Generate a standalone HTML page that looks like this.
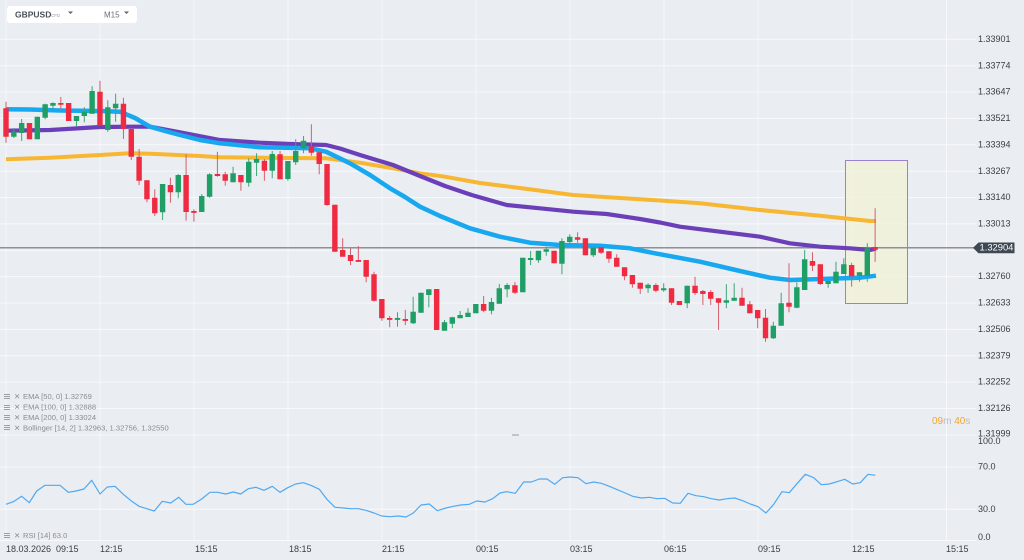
<!DOCTYPE html>
<html><head><meta charset="utf-8">
<style>
html,body{margin:0;padding:0;background:#eaedf1;}
svg{display:block;font-family:"Liberation Sans",Arial,sans-serif;}
.ax{font-size:9px;fill:#3b4046;}
.lg{font-size:7.6px;fill:#8a8f95;}
</style></head>
<body>
<svg width="1024" height="560" viewBox="0 0 1024 560" xmlns="http://www.w3.org/2000/svg">
<rect width="1024" height="560" fill="#eaedf1"/>
<g stroke="#f7f9fb" stroke-width="1">
<path d="M0 39.3H976M0 65.7H976M0 92H976M0 118.4H976M0 144.8H976M0 171.2H976M0 197.5H976M0 223.9H976M0 250.3H976M0 276.6H976M0 303H976M0 329.4H976M0 355.7H976M0 382.1H976M0 408.5H976M0 435H976M0 467H976M0 509.3H976M0 540.5H976"/>
<path d="M6 0V541M100 23V541M194 0V541M288 0V541M382 0V541M476 0V541M570 0V541M664 0V541M758 0V541M852 0V541M946.5 0V541"/>
</g>
<path d="M512 435H519" stroke="#9aa0a6" stroke-width="1"/>
<rect x="845.5" y="160.5" width="62" height="143" fill="#f2f1d6" fill-opacity="0.75" stroke="#9b7fd0" stroke-width="1"/>
<path d="M0 247.7H974" stroke="#8c9196" stroke-width="1.5"/>
<polyline fill="none" stroke="#f7b733" stroke-width="4" stroke-linejoin="round" points="6,159.3 50,157.7 100,155 130,153.3 150,153.7 200,156 220,157.3 290,158 326,158.3 360,162.7 393,168.3 420,173.3 445,176.7 480,183 520,188 573,195 620,198 660,200.5 700,203.3 760,210 820,215.7 870,221 876,221"/>
<polyline fill="none" stroke="#6b3fb8" stroke-width="4.2" stroke-linejoin="round" points="6,130.7 50,130 100,127 130,126.7 150,126.7 180,132.3 220,140 260,142.7 290,144 326,145 340,148.5 360,155 393,165 420,176 445,186 471.7,195 506.7,205 540,208.3 573.3,211.7 606.7,214 640,219 660,222.5 680,226.7 720,231.7 760,236.7 790,243.3 820,246.7 850,248.3 870,250 876,248.7"/>
<polyline fill="none" stroke="#17a8ef" stroke-width="4.5" stroke-linejoin="round" points="6,109.3 30,109.5 60,110.5 100,111 120,111.7 135,118 150,126.7 165,131 180,135 200,140 220,143.3 260,147.3 310,148.3 326,151.7 350,163.3 370,175 390,188.3 405,197 420,206.7 440,216 470,228.3 500,236.7 530,242.7 560,245 600,245.7 630,248.3 655,253.3 700,261.7 740,271 770,277.7 790,280 820,279 860,277.7 876,275.7"/>
<path fill="none" stroke="#d3606c" stroke-width="1" d="M6 101.7V142.7M29.49 123V139.3M60.81 97V109M68.64 103V121M99.96 80.7V125.7M123.45 97.7V139M131.28 128.3V160M139.11 149V185M146.94 180.3V202.3M154.77 189.3V216M170.43 177.7V202.7M186.09 154.3V220.7M193.92 209.3V221.7M217.41 151.7V176.7M225.24 171.7V185.7M240.9 175V190.7M264.39 159V180.7M280.05 151V179.3M311.37 124.3V155.7M319.2 152.3V174.3M327.03 164V205.7M334.86 204.7V251.7M342.69 238.3V256.7M350.52 248.3V265M358.35 246V261.7M366.18 260V282.3M374.01 271.7V301.7M381.84 299V320.7M389.67 316V327.3M405.33 310V325M436.65 289V330M483.63 296V312.3M514.95 282V294M554.1 250.7V263.3M577.59 232.3V242.7M585.42 238.3V255.3M601.08 247.3V254M608.91 251.3V262.7M616.74 254.3V266.7M624.57 267.3V280.3M632.4 275V287.7M640.23 282.7V294M655.89 283.3V292.3M671.55 288.3V305M679.38 301V305M695.04 276.7V295M702.87 290V305M710.7 290V305M718.53 298.3V330M742.02 287.7V305.7M749.85 301V313.3M757.68 310V328.3M765.51 309V341.7M789 263.3V312.3M812.49 252.3V271M820.32 264.3V285M851.64 262.7V286.7M875.13 208.3V261.7"/>
<path fill="none" stroke="#3fa575" stroke-width="1" d="M13.83 128V138M21.66 119V141M37.32 116.7V139.3M45.15 103.7V119.3M52.98 102.3V110M76.47 116V126.7M84.3 107.3V122.3M92.13 86.3V113.7M107.79 100.3V131.7M115.62 93.7V121.7M162.6 184V220M178.26 174V198.3M201.75 194V212M209.58 173.3V197.7M233.07 166.7V182.3M248.73 158.3V186.7M256.56 153.3V176M272.22 151V178.3M287.88 161V180.7M295.71 139.3V165M303.54 136V153.3M397.5 312.3V326.7M413.16 296.7V324M420.99 292.7V312.7M428.82 289.3V307.3M444.48 320V330.7M452.31 316.7V328.3M460.14 311V318.3M467.97 308.3V317M475.8 304V313.3M491.46 297.7V314.3M499.29 284V303.7M507.12 283.3V297.3M522.78 257.7V292.3M530.61 251V265M538.44 250.7V262.7M546.27 246.7V255.7M561.93 238.3V274.3M569.76 234.3V244.3M593.25 247.7V257M648.06 283.3V292.7M663.72 283.3V291.7M687.21 285.7V308.3M726.36 284.3V308.3M734.19 283.3V300.7M773.34 321.7V339M781.17 292.7V325.7M796.83 282.3V308.3M804.66 250V290M828.15 281V287.7M835.98 261.7V283.3M843.81 258.3V274M859.47 272.3V281.7M867.3 243.3V281.7"/>
<path fill="none" stroke="#ef2a41" stroke-width="5.4" d="M6 108.3V136.7M29.49 123V139.3M60.81 103V104.8M68.64 103V121M99.96 91.7V125.7M123.45 103.7V129M131.28 129V156.7M139.11 156.7V180.7M146.94 180.3V199.3M154.77 197.7V213.3M170.43 185V192.3M186.09 175V212M193.92 211V212.9M217.41 174V176M225.24 174.3V180.7M240.9 175V182.3M264.39 160.7V170.7M280.05 154.3V179.3M311.37 146.3V152.7M319.2 152.3V164M327.03 164V205M334.86 204.7V251.7M342.69 250V256.7M350.52 255V261M358.35 260V261.9M366.18 260V276.7M374.01 274.3V300.7M381.84 299V318.3M389.67 318V319.9M405.33 319V320.9M436.65 289V330M483.63 304V310.7M514.95 285.3V292.7M554.1 250.7V263.3M577.59 237.3V239.7M585.42 238.3V255.3M601.08 247.3V252.7M608.91 251.3V258.7M616.74 257.7V266.7M624.57 267.3V276.3M632.4 275V284.3M640.23 282.7V288.7M655.89 285V290.7M671.55 288.3V302.7M679.38 301V305M695.04 285.7V293M702.87 291V294M710.7 292V298.7M718.53 298.3V302.7M742.02 297.7V305.7M749.85 304.3V313.3M757.68 310V318.3M765.51 317.7V338.3M789 302.7V306.7M812.49 261V265.7M820.32 264.3V284M851.64 265V276.3M875.13 247V249.7"/>
<path fill="none" stroke="#1f9e65" stroke-width="5.4" d="M13.83 131.7V136.7M21.66 123V133M37.32 116.7V139.3M45.15 104.3V117.7M52.98 103V105.7M76.47 116V121M84.3 111.7V116M92.13 91V113.7M107.79 107.3V130M115.62 103.7V108.3M162.6 184V212.3M178.26 175V192.3M201.75 196V212M209.58 174.3V196.7M233.07 173.3V182.3M248.73 161.7V182.7M256.56 159V162.7M272.22 154V170.7M287.88 161V179M295.71 151V162.3M303.54 140.7V148.3M397.5 318V319.9M413.16 311.7V323.3M420.99 292.7V312.7M428.82 289.3V295M444.48 322.3V330.7M452.31 317.3V323.7M460.14 315V318.3M467.97 312.7V317M475.8 304V313.3M491.46 302V310.7M499.29 288.3V303.7M507.12 285V289.3M522.78 257.7V292.3M530.61 258V260M538.44 250.7V260.3M546.27 249.3V251.7M561.93 241V263.7M569.76 236.7V242M593.25 247.7V255.3M648.06 284.7V288.3M663.72 288.3V290.3M687.21 285.7V303.3M726.36 300.3V302.7M734.19 297.7V300.7M773.34 325.7V338.3M781.17 303.3V325.7M796.83 287.3V307.7M804.66 259.3V290M828.15 281V284M835.98 271.7V283.3M843.81 264.3V274M859.47 272.3V275.7M867.3 248.3V275.7"/>
<polyline fill="none" stroke="#4fa9f2" stroke-width="1.2" stroke-linejoin="round" points="6,504.3 13.3,501.7 21.7,496.3 29.3,502.7 36.7,491 45,485.3 60,485.3 68.3,492.3 76,491 84,489 91.7,480.3 100,494 107.3,487 115,486.3 123.3,494.3 131,500.7 139,506.3 146.7,508.7 154.3,511 162.3,501.3 170.7,503 178.7,497.3 186,504.3 193.3,504.3 201.7,499 210,492.3 217.7,492.3 225.7,494 233.3,492 240.7,494 248.3,488.7 256,487.3 264,490.3 272.3,486.3 280,492.3 287.7,487.7 295.7,484 303.3,482.7 311.7,485.7 319.3,489.3 327.3,499.7 335,507.3 343.3,508 350.7,508.7 358.3,508.7 366,510.3 374,513 381.7,516 390,516.7 398.3,516 406,517 413.3,513 421,505 429.3,504 437.3,510.7 446,508 453.3,506.3 460.7,505 469.3,504.3 476.7,501 485,502 492.7,498.7 500,493 506.7,491.7 515.3,493.3 523.7,482 531.3,482 539.3,479 547,479 554.7,484.3 562.7,477.7 570.3,477 578,477.7 586,483.7 593.7,482 601.3,483.3 609.3,486.3 617.3,489.7 625.3,493 632.7,496.3 641.3,498 649.3,497.3 657,498.7 664.7,498.3 672.7,503 680.3,503.3 688,493.3 696,495.7 703.7,496.7 711.3,498.7 719.3,500 727,498.7 734.7,498 742.7,500.7 750.3,504 758,506.7 766,513 773.7,504.3 782,491.7 789.3,492.7 797.3,483.3 805.3,474.3 813.7,477.7 821.3,484.7 829.3,484 837,481.7 844.7,479.3 852.7,484 860.3,482.7 868,474.3 875.3,475.3"/>
<g class="ax" dominant-baseline="middle">
<text x="978" y="39.5">1.33901</text>
<text x="978" y="65.9">1.33774</text>
<text x="978" y="92.2">1.33647</text>
<text x="978" y="118.6">1.33521</text>
<text x="978" y="145">1.33394</text>
<text x="978" y="171.4">1.33267</text>
<text x="978" y="197.7">1.33140</text>
<text x="978" y="224.1">1.33013</text>
<text x="978" y="276.8">1.32760</text>
<text x="978" y="303.2">1.32633</text>
<text x="978" y="329.6">1.32506</text>
<text x="978" y="355.9">1.32379</text>
<text x="978" y="382.3">1.32252</text>
<text x="978" y="408.7">1.32126</text>
<text x="978" y="434.3">1.31999</text>
<text x="978" y="441.5">100.0</text>
<text x="978" y="467.3">70.0</text>
<text x="978" y="509.7">30.0</text>
<text x="978" y="537.5">0.0</text>
</g>
<path d="M973 247.9L978.5 242.5H1014.5V253.3H978.5Z" fill="#3d4853"/>
<text x="979.5" y="248.2" font-size="9.4" fill="#ffffff" dominant-baseline="middle">1.32904</text>
<text x="932" y="421" font-size="10" dominant-baseline="middle"><tspan fill="#f5a52a">09</tspan><tspan fill="#b9bec4">m</tspan><tspan fill="#f5a52a"> 40</tspan><tspan fill="#b9bec4">s</tspan></text>
<g fill="#9ba0a6">
<rect x="4" y="394" width="6" height="1"/><rect x="4" y="396" width="6" height="1"/><rect x="4" y="398" width="6" height="1"/>
<rect x="4" y="405" width="6" height="1"/><rect x="4" y="407" width="6" height="1"/><rect x="4" y="409" width="6" height="1"/>
<rect x="4" y="415" width="6" height="1"/><rect x="4" y="417" width="6" height="1"/><rect x="4" y="419" width="6" height="1"/>
<rect x="4" y="425" width="6" height="1"/><rect x="4" y="427" width="6" height="1"/><rect x="4" y="429" width="6" height="1"/>
<rect x="4" y="533" width="6" height="1"/><rect x="4" y="535" width="6" height="1"/><rect x="4" y="537" width="6" height="1"/>
</g>
<g class="lg" dominant-baseline="middle">
<text x="14" y="397">✕</text><text x="23" y="397">EMA [50, 0] 1.32769</text>
<text x="14" y="407.7">✕</text><text x="23" y="407.7">EMA [100, 0] 1.32888</text>
<text x="14" y="418">✕</text><text x="23" y="418">EMA [200, 0] 1.33024</text>
<text x="14" y="428.3">✕</text><text x="23" y="428.3">Bollinger  [14, 2] 1.32963,  1.32756,  1.32550</text>
<text x="14" y="536">✕</text><text x="23" y="536">RSI  [14]  63.0</text>
</g>
<g class="ax" font-size="9">
<text x="6" y="552">18.03.2026</text>
<text x="56" y="552">09:15</text>
<text x="100" y="552">12:15</text>
<text x="195" y="552">15:15</text>
<text x="289" y="552">18:15</text>
<text x="382" y="552">21:15</text>
<text x="476" y="552">00:15</text>
<text x="570" y="552">03:15</text>
<text x="664" y="552">06:15</text>
<text x="758" y="552">09:15</text>
<text x="852" y="552">12:15</text>
<text x="946" y="552">15:15</text>
</g>
<rect x="7" y="6" width="130" height="17" rx="3" fill="#ffffff"/>
<text x="15" y="17.5" font-size="8.5" font-weight="bold" fill="#4a5058">GBPUSD</text>
<text x="51" y="17" font-size="4.5" fill="#9a9fa5">CFD</text>
<path d="M68 11.5H73L70.5 14Z" fill="#5a6068"/>
<text x="104" y="17.5" font-size="8" fill="#6a7078">M15</text>
<path d="M124 11.5H129L126.5 14Z" fill="#5a6068"/>
</svg>
</body></html>
